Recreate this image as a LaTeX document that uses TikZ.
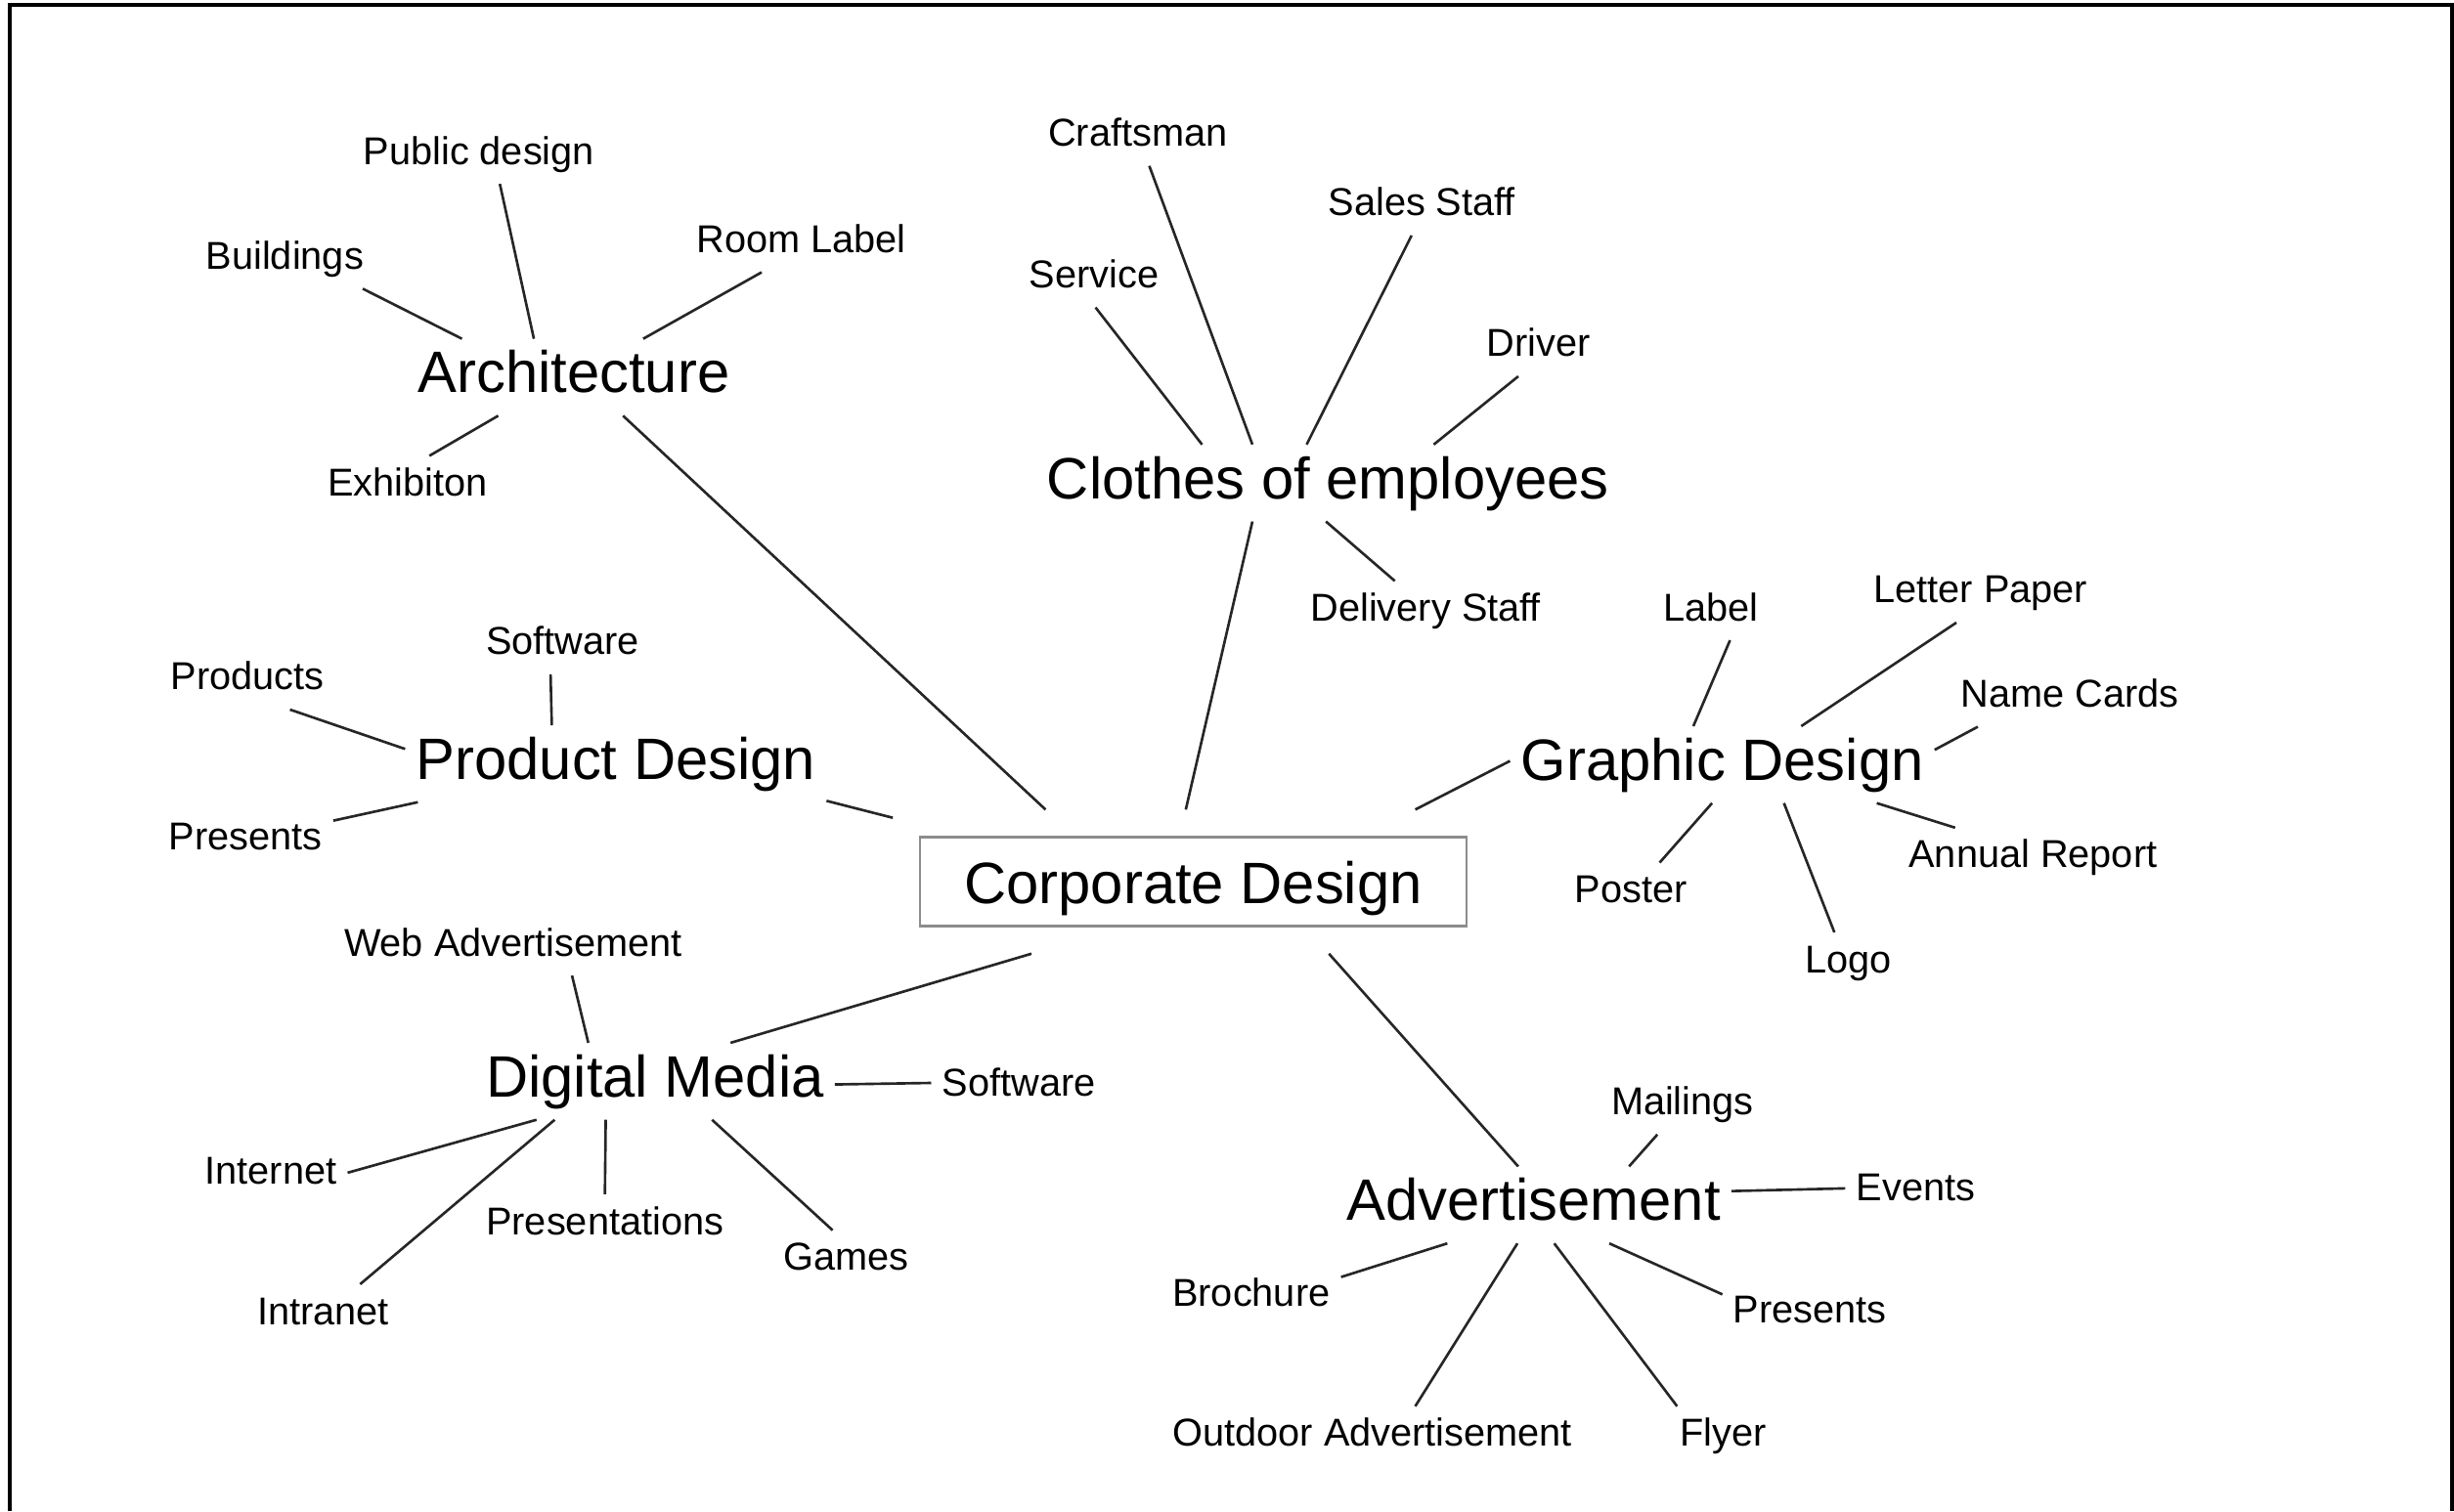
\documentclass[tikz,border=0pt]{standalone}
\usepackage{fontspec}
\setmainfont{Liberation Sans}

\begin{document}
\begin{tikzpicture}[%
  x=0.016008cm, y=-0.016008cm,
  topic/.style={anchor=base, inner sep=3pt, font=\fontsize{17}{20}\selectfont,
    text height=12.5pt, text depth=3.5pt},
  leaf/.style={anchor=base, inner sep=3pt, font=\fontsize{11.3}{13.5}\selectfont,
    text height=8.5pt, text depth=2.5pt},
  hub/.style={draw=black!45, line width=0.7pt, inner sep=0pt, outer sep=8pt,
    minimum width=5.587cm, minimum height=0.912cm,
    font=\fontsize{17}{20}\selectfont, text height=14pt, text depth=1pt},
  link/.style={line width=0.75pt, black!85}]
  \useasboundingbox (0,0) rectangle (1568,966);
  \draw[line width=1pt] (6.2,966) -- (6.2,3.1) -- (1566.7,3.1) -- (1566.7,966);

  \node[hub] (corp) at (762.5,563.5) {Corporate Design};

  % Architecture
  \node[topic] (arch) at (366.6,251) {Architecture};
  \node[leaf] (public) at (306,105) {Public design};
  \node[leaf] (buildings) at (182,172) {Buildings};
  \node[leaf] (roomlabel) at (512,161.5) {Room Label};
  \node[leaf] (exhibiton) at (260.5,317) {Exhibiton};
  \draw[link] (buildings.-21.7) -- (arch.161.1);
  \draw[link] (public.-55.2) -- (arch.136.6);
  \draw[link] (roomlabel.-143.2) -- (arch.29.7);
  \draw[link] (exhibiton.54.2) -- (arch.-153.5);
  \draw[link] (arch.-38.5) -- (corp.154.2);

  % Clothes of employees
  \node[topic] (clothes) at (848.5,318.6) {Clothes of employees};
  \node[leaf] (craftsman) at (727,93.5) {Craftsman};
  \node[leaf] (service) at (699,184) {Service};
  \node[leaf] (sales) at (908.5,138) {Sales Staff};
  \node[leaf] (driver) at (983,228) {Driver};
  \node[leaf] (delivery) at (911,397) {Delivery Staff};
  \draw[link] (craftsman.-69.5) -- (clothes.153);
  \draw[link] (service.-87) -- (clothes.163.3);
  \draw[link] (sales.-109.2) -- (clothes.119.2);
  \draw[link] (driver.-124.8) -- (clothes.20.3);
  \draw[link] (delivery.136.9) -- (clothes.-93.5);
  \draw[link] (clothes.-153) -- (corp.96.8);

  % Graphic Design
  \node[topic] (graphic) at (1100.5,498.6) {Graphic Design};
  \node[leaf] (label) at (1093,396.7) {Label};
  \node[leaf] (letter) at (1265.5,385.4) {Letter Paper};
  \node[leaf] (namecards) at (1322.5,452) {Name Cards};
  \node[leaf] (annual) at (1299,554.7) {Annual Report};
  \node[leaf] (logo) at (1181,621.6) {Logo};
  \node[leaf] (poster) at (1042,577) {Poster};
  \draw[link] (label.-57.3) -- (graphic.127.4);
  \draw[link] (letter.-129.7) -- (graphic.26.5);
  \draw[link] (namecards.-162.8) -- (graphic.4.6);
  \draw[link] (annual.159.1) -- (graphic.-14.5);
  \draw[link] (logo.115.7) -- (graphic.-32.8);
  \draw[link] (poster.46.1) -- (graphic.-105);
  \draw[link] (graphic.179) -- (corp.18.2);

  % Product Design
  \node[topic] (product) at (393.5,498) {Product Design};
  \node[leaf] (softA) at (359.5,418.5) {Software};
  \node[leaf] (products) at (158,441) {Products};
  \node[leaf] (presentsA) at (157,543) {Presents};
  \draw[link] (softA.-112.6) -- (product.149.9);
  \draw[link] (products.-35.7) -- (product.176.1);
  \draw[link] (presentsA.12.2) -- (product.-169.5);
  \draw[link] (product.-10.8) -- (corp.168.6);

  % Digital Media
  \node[topic] (digital) at (418.5,701) {Digital Media};
  \node[leaf] (webad) at (328,611) {Web Advertisement};
  \node[leaf] (softB) at (651,700.7) {Software};
  \node[leaf] (internet) at (173,757) {Internet};
  \node[leaf] (intranet) at (206.5,846.5) {Intranet};
  \node[leaf] (presentations) at (386.5,789) {Presentations};
  \node[leaf] (games) at (540.5,812) {Games};
  \draw[link] (webad.-27.6) -- (digital.150.9);
  \draw[link] (softB.178.8) -- (digital.-1);
  \draw[link] (internet.1.7) -- (digital.-162.7);
  \draw[link] (intranet.39.7) -- (digital.-159.8);
  \draw[link] (presentations.90) -- (digital.-142.9);
  \draw[link] (games.114.4) -- (digital.-34.3);
  \draw[link] (digital.27.5) -- (corp.-156.7);

  % Advertisement
  \node[topic] (advert) at (980,780) {Advertisement};
  \node[leaf] (mailings) at (1075,712.6) {Mailings};
  \node[leaf] (events) at (1224,767.7) {Events};
  \node[leaf] (brochure) at (799.5,835) {Brochure};
  \node[leaf] (presentsB) at (1156.5,845.8) {Presents};
  \node[leaf] (outdoor) at (877,924.5) {Outdoor Advertisement};
  \node[leaf] (flyer) at (1101,924.5) {Flyer};
  \draw[link] (mailings.-130.6) -- (advert.22.8);
  \draw[link] (events.178) -- (advert.4.8);
  \draw[link] (brochure.12.2) -- (advert.-156.4);
  \draw[link] (presentsB.168.6) -- (advert.-27.3);
  \draw[link] (outdoor.35.7) -- (advert.-113.7);
  \draw[link] (flyer.147.5) -- (advert.-62.5);
  \draw[link] (advert.112.5) -- (corp.-28.9);
\end{tikzpicture}
\end{document}
